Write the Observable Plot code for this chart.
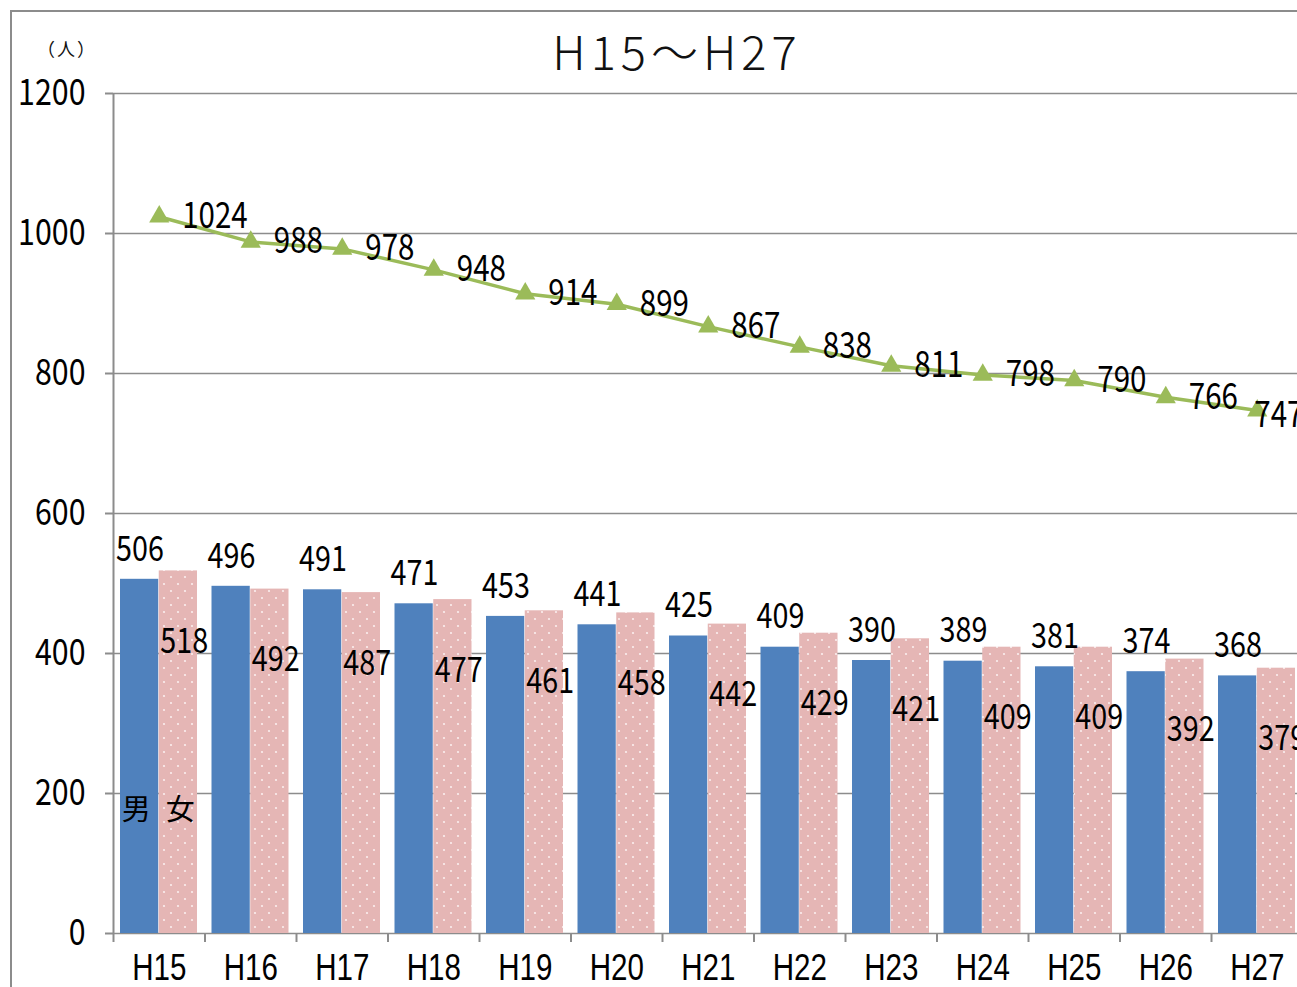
<!DOCTYPE html>
<html>
<head>
<meta charset="utf-8">
<script src="https://cdn.jsdelivr.net/npm/d3@7"></script>
<script src="https://cdn.jsdelivr.net/npm/@observablehq/plot@0.6"></script>
<style>
  html, body { margin: 0; padding: 0; background: #fff; overflow: hidden; }
  #wrap { position: relative; width: 1297px; height: 987px; overflow: hidden; }
  #frame { position: absolute; left: 10px; top: 10px; width: 1400px; height: 1100px;
           border-left: 2px solid #8c8c8c; border-top: 2px solid #8c8c8c; }
  #title { position: absolute; left: 377px; width: 600px; top: 22px; text-align: center;
           font-family: "Noto Sans CJK JP", "Noto Sans", sans-serif; font-weight: 300; font-size: 47px;
           letter-spacing: 5px; color: #111; line-height: 1.2; }
  #unit { position: absolute; left: 37px; top: 35px; font-family: "Noto Sans CJK JP", sans-serif;
          font-size: 18px; letter-spacing: 2px; color: #111; }
  #chart { position: absolute; left: 0; top: 0; }
  #chart svg { max-width: none !important; }
</style>
</head>
<body>
<div id="wrap">
  <div id="frame"></div>
  <div id="chart"></div>
  <div id="title">H15～H27</div>
  <div id="unit">（人）</div>
</div>
<script>
const years = ["H15","H16","H17","H18","H19","H20","H21","H22","H23","H24","H25","H26","H27"];
const male = [506,496,491,471,453,441,425,409,390,389,381,374,368];
const female = [518,492,487,477,461,458,442,429,421,409,409,392,379];
const total = [1024,988,978,948,914,899,867,838,811,798,790,766,747];
const yTicks = [0,200,400,600,800,1000,1200];
const seriesNames = ["男","女"];

const data = years.map((y, i) => ({year: y, male: male[i], female: female[i], total: total[i]}));
const lastIdx = data.length - 1;

const W = 1340, H = 987;
const mL = 113, mT = 93, mB = 54;
const band = 91.5;
const mR = W - mL - band * years.length;
const half = band / 2;
const numFont = '"Noto Sans CJK JP", "Noto Sans", sans-serif';
const latinFont = '"Liberation Sans", Arial, sans-serif';
const cjkFont = '"Noto Sans CJK JP", sans-serif';

const plot = Plot.plot({
  width: W, height: H,
  marginLeft: mL, marginRight: mR, marginTop: mT, marginBottom: mB,
  style: {fontFamily: numFont, background: "transparent", overflow: "visible", maxWidth: "none"},
  x: {type: "band", domain: years, padding: 0, round: false, label: null},
  y: {domain: [0, 1200], label: null},
  marks: [
    Plot.gridY(yTicks, {stroke: "#8c8c8c", strokeOpacity: 1, strokeWidth: 1.5}),
    // left axis line
    Plot.ruleX([years[0]], {x: d => d, dx: -half, y1: 0, y2: 1200, stroke: "#8c8c8c", strokeWidth: 2}),
    // bars
    Plot.barY(data, {x: "year", y: "male", fill: "#4f81bd", insetLeft: 7, insetRight: half + 0.5}),
    Plot.barY(data, {x: "year", y: "female", fill: "url(#dots)", insetLeft: half, insetRight: 7.5}),
    // y axis ticks and labels
    Plot.axisY(yTicks, {tickSize: 8, tickPadding: 20, fontSize: 37, stroke: "#8c8c8c", strokeWidth: 2, fill: "#000", label: null, tickFormat: d => String(d)}),
    // x boundary ticks
    Plot.axisX({tickSize: 9, dx: -half, tickFormat: () => "", stroke: "#8c8c8c", strokeWidth: 2, label: null}),
    Plot.axisX({tickSize: 0, tickPadding: 21, fontSize: 36, fontFamily: latinFont, fill: "#000", label: null}),
    // total line
    Plot.line(data, {x: "year", y: "total", stroke: "#9bbb59", strokeWidth: 3.5}),
    Plot.dot(data, {x: "year", y: "total", symbol: "triangle", r: 7.5, fill: "#9bbb59", stroke: "none"}),
    // labels
    Plot.text(data.slice(0, lastIdx), {x: "year", y: "total", text: d => String(d.total), dx: 23, textAnchor: "start", fontSize: 36, fill: "#000"}),
    Plot.text(data.slice(lastIdx), {x: "year", y: "total", text: d => String(d.total), dx: -3, dy: 5, textAnchor: "start", fontSize: 36, fill: "#000"}),
    Plot.text(data, {x: "year", y: "male", text: d => String(d.male), dx: -19.25, dy: -30, fontSize: 35, fill: "#000"}),
    Plot.text(data, {x: "year", y: "female", text: d => String(d.female), dx: 25, dy: 71, fontSize: 35, fill: "#000"}),
    // series names inside first bars
    Plot.text([years[0]], {x: d => d, y: [176], text: [seriesNames[0]], dx: -23, fontSize: 29, fill: "#000", fontFamily: cjkFont}),
    Plot.text([years[0]], {x: d => d, y: [176], text: [seriesNames[1]], dx: 21, fontSize: 29, fill: "#000", fontFamily: cjkFont})
  ]
});

// dotted pink pattern
const ns = "http://www.w3.org/2000/svg";
const defs = document.createElementNS(ns, "defs");
defs.innerHTML = `<pattern id="dots" patternUnits="userSpaceOnUse" width="14" height="14">
  <rect width="14" height="14" fill="#e5b6b5"/>
  <circle cx="3" cy="3" r="1.1" fill="#fbeeee"/>
  <circle cx="10" cy="10" r="1.1" fill="#fbeeee"/>
</pattern>`;
plot.insertBefore(defs, plot.firstChild);
document.getElementById("chart").appendChild(plot);

// condense the numeric / Latin labels horizontally (narrow gothic look)
plot.querySelectorAll("text").forEach(t => {
  const s = t.textContent;
  if (!s || /[男女]/.test(s)) return;
  const len = t.getComputedTextLength();
  if (len > 0) {
    t.setAttribute("textLength", (len * 0.82).toFixed(1));
    t.setAttribute("lengthAdjust", "spacingAndGlyphs");
  }
});
</script>
</body>
</html>
